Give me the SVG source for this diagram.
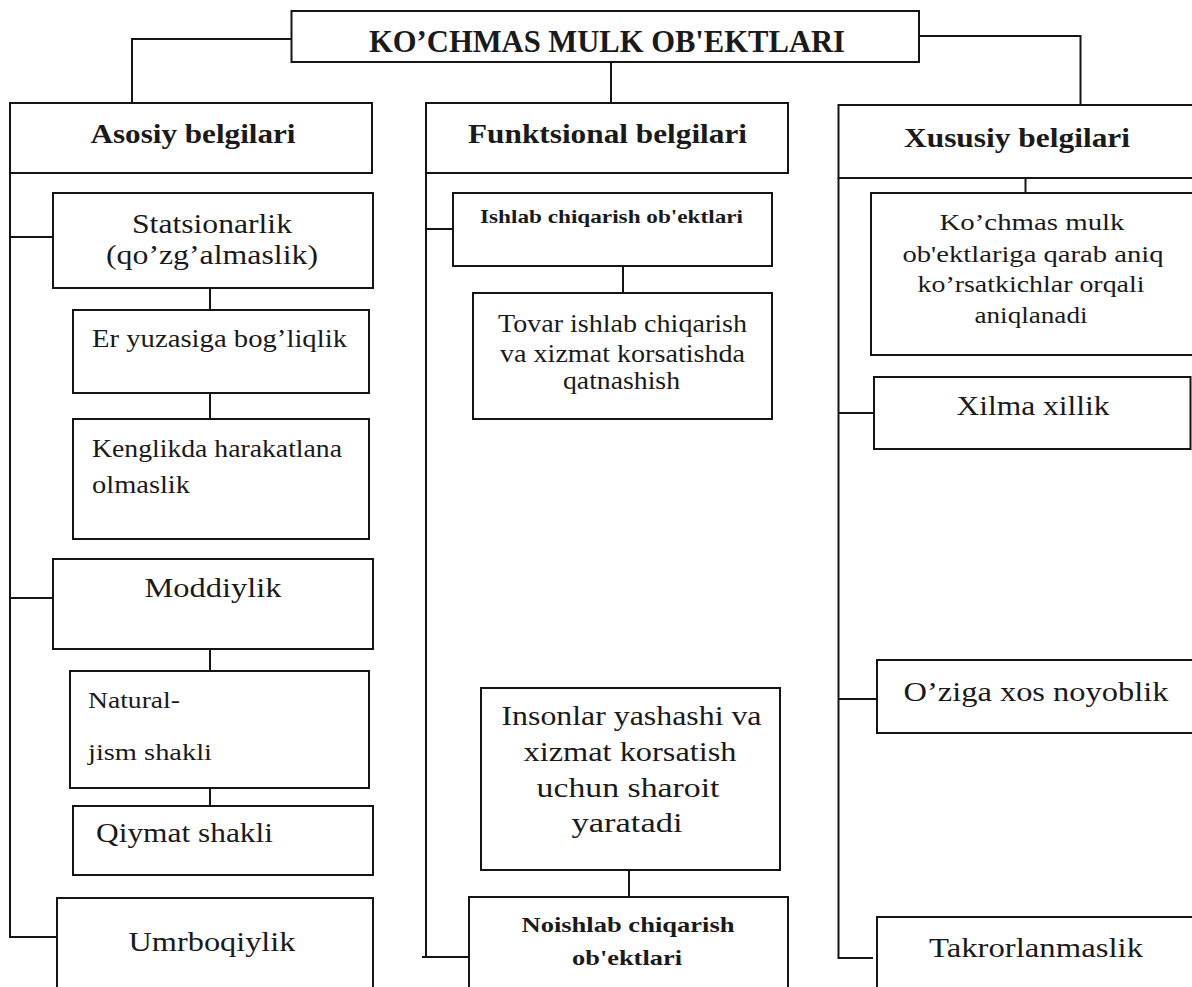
<svg xmlns="http://www.w3.org/2000/svg" width="1192" height="987" viewBox="0 0 1192 987" font-family="'Liberation Serif', serif">
  <style>
    .box { fill: #ffffff; stroke: #151515; stroke-width: 2; }
    .wire { fill: none; stroke: #151515; stroke-width: 2; }
    text { font-family: 'Liberation Serif', serif; fill: #1a1a1a; }
    .b { font-weight: bold; }
    .c { text-anchor: middle; }
  </style>
  <rect x="0" y="0" width="1192" height="987" fill="#ffffff"/>

  <!-- connectors -->
  <g id="connectors">
    <path class="wire" d="M291.5 39 H132 V103"/>
    <path class="wire" d="M611 62 V103"/>
    <path class="wire" d="M919 36 H1080.5 V105"/>
    <!-- left column spine and branches -->
    <path class="wire" d="M10 173 V937 H57"/>
    <path class="wire" d="M10 237 H53"/>
    <path class="wire" d="M10 598 H53"/>
    <path class="wire" d="M210 288 V310"/>
    <path class="wire" d="M210 393 V419"/>
    <path class="wire" d="M210 649 V671"/>
    <path class="wire" d="M210 788 V806"/>
    <!-- middle column -->
    <path class="wire" d="M426 173 V957 H469"/>
    <path class="wire" d="M422 957 H426"/>
    <path class="wire" d="M426 229 H453"/>
    <path class="wire" d="M623 266 V293"/>
    <path class="wire" d="M629 870 V897"/>
    <!-- right column -->
    <path class="wire" d="M838.5 178 V958 H873"/>
    <path class="wire" d="M838.5 413 H874"/>
    <path class="wire" d="M838.5 699 H877"/>
    <path class="wire" d="M1025.5 178 V193"/>
  </g>

  <g id="root">
    <rect class="box" x="291.5" y="11" width="627.5" height="51"/>
    <text class="b c" x="607" y="52" font-size="31" textLength="476" lengthAdjust="spacingAndGlyphs">KO’CHMAS MULK OB'EKTLARI</text>
  </g>

  <!-- column headers -->
  <g id="asosiy">
    <rect class="box" x="10" y="103" width="362" height="70"/>
    <text class="b c" x="193" y="143" font-size="28" textLength="205" lengthAdjust="spacingAndGlyphs">Asosiy belgilari</text>
  </g>
  <g id="funktsional">
    <rect class="box" x="426" y="103" width="362" height="70"/>
    <text class="b c" x="607.5" y="143" font-size="28" textLength="279" lengthAdjust="spacingAndGlyphs">Funktsional belgilari</text>
  </g>
  <g id="xususiy">
    <rect class="box" x="838.5" y="105" width="370" height="73"/>
    <text class="b c" x="1017" y="147" font-size="28" textLength="226" lengthAdjust="spacingAndGlyphs">Xususiy  belgilari</text>
  </g>

  <!-- left column -->
  <g id="statsionarlik">
    <rect class="box" x="53" y="193" width="320" height="95"/>
    <text class="c" x="212" y="233" font-size="27" textLength="160" lengthAdjust="spacingAndGlyphs">Statsionarlik</text>
    <text class="c" x="212" y="264" font-size="27" textLength="212" lengthAdjust="spacingAndGlyphs">(qo’zg’almaslik)</text>
  </g>
  <g id="er-yuzasiga">
    <rect class="box" x="73" y="310" width="296" height="83"/>
    <text x="92" y="347" font-size="25" textLength="255" lengthAdjust="spacingAndGlyphs">Er yuzasiga  bog’liqlik</text>
  </g>
  <g id="kenglikda">
    <rect class="box" x="73" y="419" width="296" height="120"/>
    <text x="92" y="457" font-size="25" textLength="250" lengthAdjust="spacingAndGlyphs">Kenglikda harakatlana</text>
    <text x="92" y="493" font-size="25" textLength="98" lengthAdjust="spacingAndGlyphs">olmaslik</text>
  </g>
  <g id="moddiylik">
    <rect class="box" x="53" y="559" width="320" height="90"/>
    <text class="c" x="213" y="597" font-size="28" textLength="137" lengthAdjust="spacingAndGlyphs">Moddiylik</text>
  </g>
  <g id="natural">
    <rect class="box" x="70" y="671" width="299" height="117"/>
    <text x="88" y="708" font-size="23" textLength="92" lengthAdjust="spacingAndGlyphs">Natural-</text>
    <text x="88" y="760" font-size="23" textLength="124" lengthAdjust="spacingAndGlyphs">jism shakli</text>
  </g>
  <g id="qiymat">
    <rect class="box" x="73" y="806" width="300" height="69"/>
    <text x="96" y="842" font-size="27" textLength="177" lengthAdjust="spacingAndGlyphs">Qiymat shakli</text>
  </g>
  <g id="umrboqiylik">
    <rect class="box" x="57" y="898" width="316" height="100"/>
    <text class="c" x="212" y="951" font-size="28" textLength="167" lengthAdjust="spacingAndGlyphs">Umrboqiylik</text>
  </g>

  <!-- middle column -->
  <g id="ishlab">
    <rect class="box" x="453" y="193" width="319" height="73"/>
    <text class="b" x="480" y="223" font-size="19" textLength="263" lengthAdjust="spacingAndGlyphs">Ishlab  chiqarish  ob'ektlari</text>
  </g>
  <g id="tovar">
    <rect class="box" x="473" y="293" width="299" height="126"/>
    <text class="c" x="622.5" y="332" font-size="25" textLength="249" lengthAdjust="spacingAndGlyphs">Tovar ishlab chiqarish</text>
    <text class="c" x="622.5" y="362" font-size="25" textLength="245" lengthAdjust="spacingAndGlyphs">va xizmat  korsatishda</text>
    <text class="c" x="621.5" y="389" font-size="25" textLength="117" lengthAdjust="spacingAndGlyphs">qatnashish</text>
  </g>
  <g id="insonlar">
    <rect class="box" x="481" y="688" width="299" height="182"/>
    <text class="c" x="631.5" y="725" font-size="28" textLength="260" lengthAdjust="spacingAndGlyphs">Insonlar yashashi va</text>
    <text class="c" x="630" y="761" font-size="28" textLength="213" lengthAdjust="spacingAndGlyphs">xizmat korsatish</text>
    <text class="c" x="628" y="797" font-size="28" textLength="183" lengthAdjust="spacingAndGlyphs">uchun sharoit</text>
    <text class="c" x="627" y="832" font-size="28" textLength="111" lengthAdjust="spacingAndGlyphs">yaratadi</text>
  </g>
  <g id="noishlab">
    <rect class="box" x="469" y="897" width="319" height="100"/>
    <text class="b c" x="628" y="932" font-size="22" textLength="213" lengthAdjust="spacingAndGlyphs">Noishlab chiqarish</text>
    <text class="b c" x="627" y="965" font-size="22" textLength="110" lengthAdjust="spacingAndGlyphs">ob'ektlari</text>
  </g>

  <!-- right column -->
  <g id="kochmas-mulk">
    <rect class="box" x="871" y="193" width="330" height="162"/>
    <text class="c" x="1032" y="230" font-size="23" textLength="185" lengthAdjust="spacingAndGlyphs">Ko’chmas  mulk</text>
    <text class="c" x="1033" y="262" font-size="23" textLength="261" lengthAdjust="spacingAndGlyphs">ob'ektlariga qarab  aniq</text>
    <text class="c" x="1031" y="292" font-size="23" textLength="227" lengthAdjust="spacingAndGlyphs">ko’rsatkichlar  orqali</text>
    <text class="c" x="1031" y="323" font-size="23" textLength="113" lengthAdjust="spacingAndGlyphs">aniqlanadi</text>
  </g>
  <g id="xilma">
    <rect class="box" x="874" y="377" width="316.5" height="72"/>
    <text class="c" x="1033" y="415" font-size="27" textLength="153" lengthAdjust="spacingAndGlyphs">Xilma xillik</text>
  </g>
  <g id="oziga">
    <rect class="box" x="877" y="660" width="330" height="73"/>
    <text class="c" x="1036" y="701" font-size="27" textLength="265" lengthAdjust="spacingAndGlyphs">O’ziga xos noyoblik</text>
  </g>
  <g id="takrorlanmaslik">
    <rect class="box" x="877" y="917" width="330" height="90"/>
    <text class="c" x="1036" y="957" font-size="27" textLength="214" lengthAdjust="spacingAndGlyphs">Takrorlanmaslik</text>
  </g>
</svg>
